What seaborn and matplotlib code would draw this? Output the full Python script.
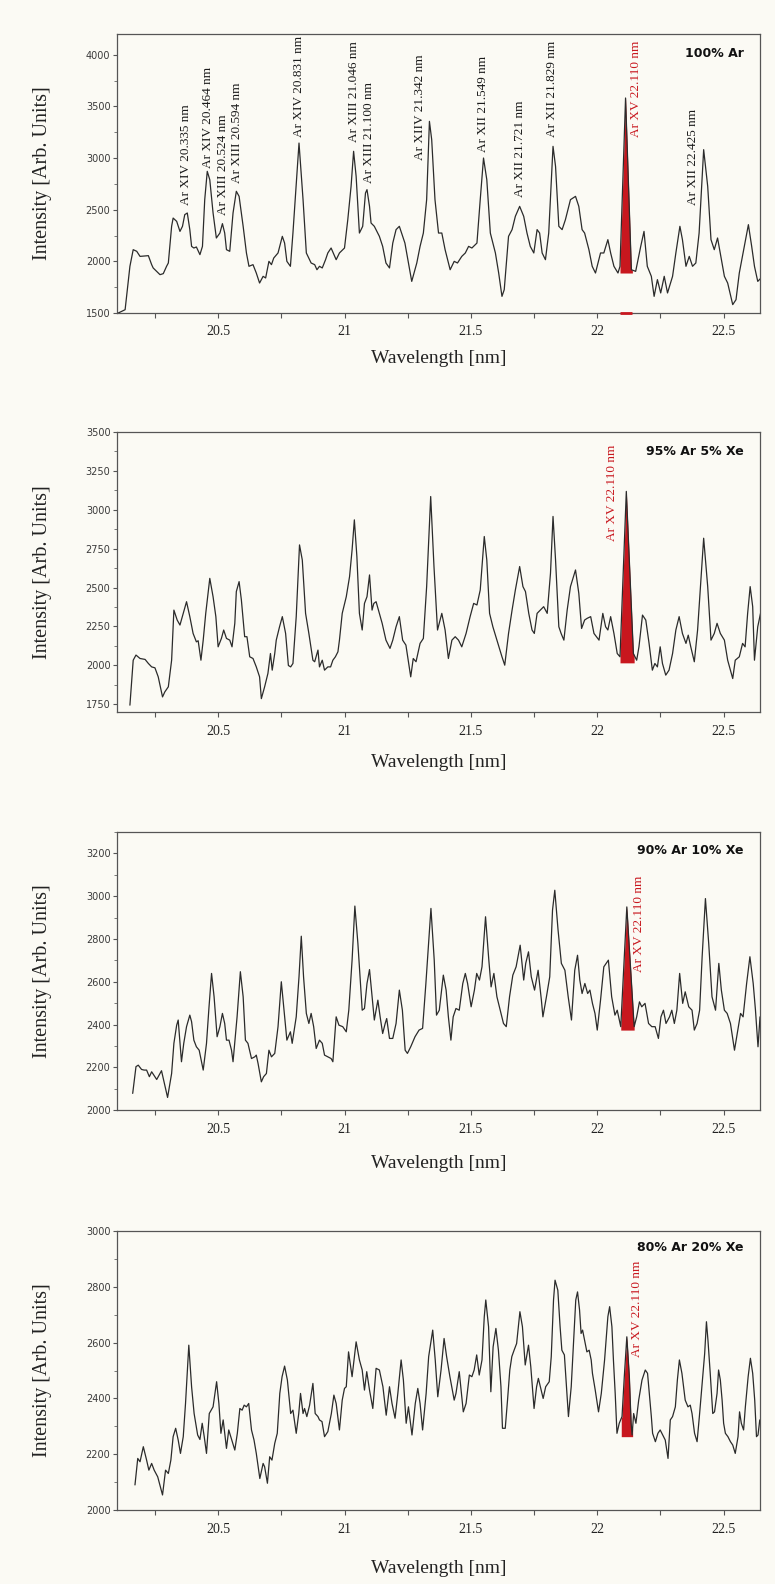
import numpy as np
import pandas as pd
import matplotlib
matplotlib.use("Agg")
import matplotlib.pyplot as plt
import seaborn as sns
from matplotlib.ticker import MultipleLocator, FuncFormatter

# ---------------- data: wavelength [nm] / intensity [arb. units] ----------------
wl_100 = [20.105, 20.132, 20.151, 20.164, 20.178, 20.191, 20.224, 20.237, 20.243, 20.270,
          20.283, 20.296, 20.303, 20.316, 20.322, 20.336, 20.349, 20.359, 20.368, 20.378,
          20.388, 20.395, 20.404, 20.414, 20.428, 20.438, 20.447, 20.457, 20.467, 20.480,
          20.493, 20.507, 20.517, 20.526, 20.533, 20.546, 20.559, 20.572, 20.583, 20.599,
          20.612, 20.622, 20.638, 20.651, 20.664, 20.678, 20.688, 20.701, 20.711, 20.720,
          20.737, 20.754, 20.763, 20.772, 20.786, 20.796, 20.820, 20.836, 20.849, 20.868,
          20.882, 20.891, 20.901, 20.912, 20.925, 20.934, 20.947, 20.961, 20.967, 20.980,
          21.000, 21.013, 21.026, 21.036, 21.046, 21.059, 21.072, 21.083, 21.089, 21.099,
          21.105, 21.118, 21.138, 21.151, 21.164, 21.178, 21.191, 21.204, 21.217, 21.239,
          21.246, 21.266, 21.286, 21.299, 21.312, 21.325, 21.336, 21.345, 21.358, 21.372,
          21.385, 21.398, 21.418, 21.434, 21.447, 21.464, 21.478, 21.491, 21.504, 21.524,
          21.537, 21.550, 21.563, 21.577, 21.597, 21.610, 21.623, 21.632, 21.649, 21.663,
          21.676, 21.693, 21.709, 21.722, 21.735, 21.749, 21.762, 21.772, 21.782, 21.795,
          21.808, 21.825, 21.835, 21.848, 21.861, 21.874, 21.894, 21.914, 21.927, 21.940,
          21.950, 21.967, 21.980, 21.993, 22.013, 22.026, 22.042, 22.053, 22.066, 22.082,
          22.090, 22.112, 22.135, 22.152, 22.172, 22.185, 22.198, 22.214, 22.225, 22.238,
          22.251, 22.265, 22.278, 22.298, 22.311, 22.327, 22.337, 22.351, 22.364, 22.377,
          22.390, 22.403, 22.421, 22.437, 22.450, 22.463, 22.476, 22.489, 22.503, 22.516,
          22.536, 22.549, 22.562, 22.582, 22.598, 22.611, 22.622, 22.635, 22.648]
int_100 = [1500, 1532, 1952, 2113, 2097, 2048, 2055, 1968, 1936, 1871,
           1881, 1952, 1984, 2339, 2419, 2387, 2290, 2339, 2452, 2468,
           2307, 2145, 2129, 2139, 2065, 2145, 2597, 2871, 2790, 2468,
           2226, 2274, 2365, 2274, 2113, 2097, 2468, 2678, 2629, 2339,
           2081, 1952, 1968, 1887, 1790, 1855, 1839, 2000, 1968, 2032,
           2081, 2242, 2177, 2000, 1952, 2274, 3145, 2597, 2081, 1984,
           1968, 1919, 1952, 1936, 2016, 2081, 2129, 2048, 2016, 2081,
           2129, 2403, 2726, 3065, 2823, 2274, 2339, 2661, 2694, 2532,
           2371, 2339, 2242, 2145, 1984, 1936, 2177, 2307, 2339, 2177,
           2081, 1806, 1984, 2145, 2274, 2597, 3355, 3178, 2597, 2274,
           2274, 2113, 1919, 2000, 1984, 2048, 2081, 2145, 2129, 2177,
           2597, 3000, 2790, 2274, 2081, 1887, 1661, 1726, 2242, 2307,
           2436, 2532, 2436, 2274, 2145, 2081, 2307, 2274, 2081, 2016,
           2274, 3113, 2919, 2339, 2307, 2403, 2597, 2629, 2532, 2307,
           2274, 2113, 1952, 1887, 2081, 2081, 2210, 2081, 1952, 1887,
           1952, 3581, 1919, 1903, 2145, 2290, 1952, 1855, 1661, 1823,
           1694, 1855, 1694, 1855, 2081, 2339, 2210, 1952, 2048, 1952,
           1984, 2274, 3081, 2726, 2210, 2113, 2226, 2048, 1855, 1790,
           1581, 1629, 1887, 2145, 2355, 2145, 1952, 1806, 1839]

wl_95 = [20.151, 20.164, 20.175, 20.191, 20.211, 20.224, 20.237, 20.250, 20.263, 20.280,
         20.289, 20.303, 20.316, 20.325, 20.338, 20.349, 20.362, 20.375, 20.388, 20.401,
         20.414, 20.421, 20.432, 20.441, 20.451, 20.467, 20.480, 20.491, 20.500, 20.513,
         20.522, 20.533, 20.546, 20.555, 20.566, 20.572, 20.583, 20.592, 20.605, 20.614,
         20.625, 20.638, 20.651, 20.664, 20.671, 20.684, 20.697, 20.707, 20.714, 20.724,
         20.730, 20.743, 20.754, 20.767, 20.778, 20.787, 20.796, 20.809, 20.822, 20.833,
         20.846, 20.859, 20.875, 20.882, 20.895, 20.901, 20.912, 20.921, 20.934, 20.945,
         20.954, 20.964, 20.974, 20.980, 20.991, 21.007, 21.020, 21.030, 21.039, 21.049,
         21.059, 21.070, 21.079, 21.089, 21.099, 21.109, 21.116, 21.125, 21.138, 21.149,
         21.164, 21.180, 21.191, 21.204, 21.217, 21.230, 21.243, 21.262, 21.272, 21.283,
         21.299, 21.312, 21.325, 21.341, 21.354, 21.368, 21.385, 21.398, 21.411, 21.425,
         21.438, 21.451, 21.464, 21.481, 21.497, 21.511, 21.524, 21.537, 21.553, 21.563,
         21.574, 21.587, 21.603, 21.623, 21.634, 21.649, 21.663, 21.676, 21.693, 21.706,
         21.716, 21.729, 21.742, 21.751, 21.762, 21.775, 21.788, 21.802, 21.815, 21.825,
         21.835, 21.848, 21.857, 21.868, 21.881, 21.894, 21.914, 21.927, 21.938, 21.950,
         21.960, 21.974, 21.987, 22.007, 22.022, 22.033, 22.042, 22.053, 22.066, 22.079,
         22.090, 22.115, 22.143, 22.156, 22.165, 22.179, 22.192, 22.205, 22.218, 22.228,
         22.238, 22.249, 22.258, 22.271, 22.284, 22.298, 22.311, 22.324, 22.337, 22.351,
         22.360, 22.370, 22.384, 22.397, 22.421, 22.437, 22.450, 22.463, 22.474, 22.487,
         22.503, 22.516, 22.536, 22.546, 22.562, 22.575, 22.585, 22.595, 22.605, 22.615,
         22.622, 22.635, 22.646]
int_95 = [1744, 2033, 2066, 2044, 2038, 2012, 1990, 1984, 1926, 1797,
          1829, 1862, 2033, 2355, 2291, 2259, 2334, 2409, 2313, 2205,
          2151, 2158, 2033, 2162, 2334, 2559, 2441, 2313, 2119, 2173,
          2227, 2173, 2162, 2119, 2270, 2474, 2538, 2420, 2184, 2184,
          2055, 2044, 1990, 1926, 1786, 1862, 1948, 2076, 1969, 2076,
          2162, 2248, 2313, 2205, 1999, 1990, 2012, 2313, 2774, 2677,
          2334, 2205, 2033, 2023, 2098, 1990, 2033, 1969, 1990, 1990,
          2033, 2055, 2087, 2162, 2334, 2441, 2570, 2742, 2935, 2699,
          2334, 2227, 2398, 2441, 2581, 2355, 2398, 2409, 2334, 2270,
          2162, 2109, 2162, 2248, 2313, 2162, 2130, 1926, 2044, 2023,
          2141, 2173, 2506, 3085, 2635, 2227, 2334, 2227, 2044, 2162,
          2184, 2162, 2119, 2205, 2313, 2398, 2388, 2484, 2828, 2677,
          2334, 2248, 2162, 2055, 2001, 2205, 2355, 2484, 2635, 2506,
          2474, 2334, 2227, 2205, 2334, 2355, 2377, 2334, 2592, 2957,
          2677, 2248, 2205, 2162, 2355, 2506, 2613, 2463, 2237, 2291,
          2302, 2313, 2205, 2162, 2334, 2248, 2227, 2313, 2205, 2076,
          2055, 3118, 2076, 2033, 2119, 2323, 2291, 2141, 1969, 2012,
          1990, 2119, 2012, 1937, 1969, 2076, 2227, 2313, 2205, 2141,
          2194, 2119, 2023, 2227, 2817, 2506, 2162, 2205, 2270, 2205,
          2162, 2033, 1915, 2033, 2055, 2141, 2119, 2334, 2506, 2377,
          2033, 2248, 2334]

wl_90 = [20.162, 20.175, 20.184, 20.197, 20.207, 20.217, 20.228, 20.237, 20.257, 20.276,
         20.300, 20.316, 20.325, 20.336, 20.342, 20.355, 20.364, 20.375, 20.388, 20.395,
         20.404, 20.414, 20.425, 20.441, 20.454, 20.464, 20.474, 20.484, 20.496, 20.507,
         20.517, 20.526, 20.533, 20.543, 20.553, 20.559, 20.575, 20.588, 20.599, 20.608,
         20.618, 20.632, 20.645, 20.651, 20.658, 20.671, 20.680, 20.691, 20.701, 20.711,
         20.724, 20.737, 20.750, 20.763, 20.772, 20.786, 20.793, 20.809, 20.820, 20.829,
         20.838, 20.849, 20.859, 20.868, 20.878, 20.888, 20.901, 20.912, 20.921, 20.934,
         20.947, 20.954, 20.967, 20.978, 20.993, 21.007, 21.017, 21.030, 21.041, 21.053,
         21.070, 21.079, 21.089, 21.099, 21.109, 21.118, 21.132, 21.141, 21.151, 21.161,
         21.167, 21.178, 21.191, 21.204, 21.217, 21.229, 21.240, 21.249, 21.262, 21.279,
         21.295, 21.309, 21.322, 21.342, 21.355, 21.364, 21.375, 21.391, 21.402, 21.411,
         21.421, 21.430, 21.441, 21.454, 21.468, 21.478, 21.487, 21.501, 21.514, 21.523,
         21.534, 21.544, 21.558, 21.571, 21.580, 21.591, 21.603, 21.616, 21.629, 21.640,
         21.653, 21.666, 21.679, 21.695, 21.709, 21.717, 21.728, 21.739, 21.752, 21.766,
         21.779, 21.785, 21.799, 21.812, 21.823, 21.832, 21.845, 21.858, 21.872, 21.885,
         21.898, 21.911, 21.922, 21.931, 21.940, 21.951, 21.962, 21.971, 21.981, 21.991,
         22.000, 22.013, 22.026, 22.044, 22.057, 22.070, 22.079, 22.093, 22.117, 22.146,
         22.156, 22.167, 22.176, 22.189, 22.203, 22.216, 22.229, 22.242, 22.252, 22.262,
         22.272, 22.286, 22.295, 22.305, 22.315, 22.326, 22.338, 22.348, 22.362, 22.375,
         22.384, 22.395, 22.405, 22.415, 22.428, 22.441, 22.454, 22.468, 22.481, 22.491,
         22.503, 22.514, 22.527, 22.543, 22.556, 22.567, 22.577, 22.591, 22.604, 22.617,
         22.626, 22.636, 22.644]
int_90 = [2078, 2203, 2210, 2190, 2187, 2187, 2156, 2179, 2143, 2184,
          2059, 2171, 2312, 2397, 2421, 2226, 2312, 2390, 2444, 2413,
          2327, 2296, 2280, 2187, 2312, 2483, 2639, 2530, 2343, 2390,
          2452, 2405, 2327, 2327, 2280, 2226, 2436, 2647, 2530, 2327,
          2312, 2241, 2249, 2257, 2218, 2132, 2156, 2171, 2280, 2249,
          2265, 2390, 2600, 2436, 2327, 2366, 2312, 2436, 2623, 2813,
          2623, 2452, 2405, 2452, 2390, 2288, 2327, 2312, 2257, 2249,
          2241, 2226, 2436, 2397, 2390, 2366, 2467, 2701, 2954, 2779,
          2467, 2475, 2592, 2657, 2530, 2421, 2514, 2436, 2358, 2405,
          2428, 2335, 2335, 2405, 2561, 2467, 2280, 2265, 2296, 2343,
          2374, 2382, 2592, 2943, 2701, 2444, 2467, 2631, 2561, 2436,
          2327, 2436, 2475, 2467, 2592, 2639, 2592, 2483, 2561, 2639,
          2608, 2670, 2904, 2701, 2576, 2639, 2530, 2467, 2405, 2390,
          2530, 2631, 2670, 2771, 2608, 2686, 2740, 2623, 2561, 2654,
          2514, 2436, 2530, 2623, 2935, 3028, 2841, 2686, 2654, 2530,
          2421, 2654, 2724, 2608, 2545, 2592, 2545, 2561, 2499, 2452,
          2374, 2514, 2670, 2701, 2530, 2444, 2467, 2390, 2950, 2390,
          2436, 2506, 2483, 2499, 2405, 2390, 2390, 2335, 2436, 2467,
          2405, 2436, 2467, 2405, 2467, 2639, 2499, 2553, 2483, 2467,
          2374, 2405, 2467, 2717, 2989, 2779, 2530, 2467, 2686, 2561,
          2467, 2452, 2405, 2280, 2374, 2452, 2436, 2592, 2717, 2592,
          2467, 2296, 2436]

wl_80 = [20.171, 20.182, 20.191, 20.204, 20.217, 20.226, 20.237, 20.247, 20.261, 20.280,
         20.292, 20.303, 20.313, 20.322, 20.332, 20.342, 20.351, 20.362, 20.371, 20.384,
         20.395, 20.405, 20.419, 20.428, 20.437, 20.445, 20.454, 20.465, 20.480, 20.494,
         20.503, 20.511, 20.520, 20.533, 20.542, 20.550, 20.566, 20.576, 20.586, 20.595,
         20.603, 20.612, 20.621, 20.632, 20.642, 20.651, 20.665, 20.678, 20.684, 20.695,
         20.704, 20.713, 20.724, 20.734, 20.744, 20.753, 20.763, 20.774, 20.787, 20.796,
         20.809, 20.819, 20.826, 20.836, 20.842, 20.851, 20.862, 20.875, 20.884, 20.895,
         20.901, 20.911, 20.921, 20.934, 20.948, 20.958, 20.967, 20.980, 20.991, 21.000,
         21.007, 21.016, 21.030, 21.046, 21.059, 21.070, 21.079, 21.088, 21.099, 21.112,
         21.125, 21.138, 21.152, 21.165, 21.178, 21.188, 21.200, 21.211, 21.224, 21.233,
         21.244, 21.253, 21.267, 21.280, 21.290, 21.299, 21.309, 21.323, 21.333, 21.349,
         21.359, 21.369, 21.382, 21.394, 21.404, 21.417, 21.434, 21.441, 21.454, 21.470,
         21.481, 21.494, 21.504, 21.513, 21.523, 21.533, 21.544, 21.553, 21.559, 21.570,
         21.579, 21.588, 21.599, 21.609, 21.619, 21.625, 21.636, 21.645, 21.654, 21.662,
         21.671, 21.681, 21.694, 21.704, 21.715, 21.728, 21.737, 21.750, 21.760, 21.767,
         21.786, 21.796, 21.810, 21.818, 21.827, 21.833, 21.844, 21.853, 21.860, 21.870,
         21.880, 21.886, 21.897, 21.906, 21.915, 21.922, 21.930, 21.936, 21.942, 21.950,
         21.959, 21.968, 21.976, 21.981, 21.992, 22.005, 22.016, 22.029, 22.042, 22.049,
         22.058, 22.064, 22.071, 22.078, 22.087, 22.098, 22.107, 22.117, 22.127, 22.134,
         22.138, 22.144, 22.153, 22.164, 22.177, 22.190, 22.199, 22.206, 22.214, 22.219,
         22.230, 22.240, 22.249, 22.259, 22.269, 22.280, 22.289, 22.298, 22.309, 22.317,
         22.325, 22.335, 22.348, 22.359, 22.368, 22.375, 22.385, 22.395, 22.404, 22.414,
         22.425, 22.432, 22.438, 22.447, 22.457, 22.464, 22.474, 22.480, 22.487, 22.494,
         22.500, 22.507, 22.517, 22.527, 22.536, 22.546, 22.557, 22.563, 22.570, 22.579,
         22.586, 22.597, 22.606, 22.615, 22.623, 22.630, 22.636, 22.643]
int_80 = [2090, 2185, 2173, 2227, 2179, 2143, 2167, 2143, 2119, 2054,
          2143, 2131, 2179, 2263, 2293, 2251, 2203, 2263, 2382, 2591,
          2442, 2346, 2269, 2253, 2311, 2263, 2203, 2346, 2370, 2460,
          2382, 2275, 2323, 2221, 2287, 2263, 2215, 2275, 2364, 2358,
          2376, 2370, 2382, 2287, 2251, 2203, 2113, 2167, 2155, 2096,
          2191, 2179, 2239, 2275, 2418, 2478, 2516, 2466, 2346, 2358,
          2275, 2346, 2418, 2346, 2364, 2335, 2376, 2454, 2346, 2335,
          2323, 2317, 2263, 2281, 2346, 2412, 2382, 2287, 2394, 2436,
          2442, 2567, 2478, 2603, 2538, 2502, 2430, 2496, 2430, 2364,
          2508, 2502, 2442, 2340, 2442, 2382, 2329, 2418, 2538, 2466,
          2311, 2370, 2269, 2382, 2436, 2382, 2287, 2418, 2550, 2645,
          2538, 2406, 2502, 2615, 2550, 2478, 2394, 2418, 2496, 2352,
          2382, 2484, 2478, 2502, 2556, 2484, 2538, 2693, 2753, 2657,
          2424, 2585, 2651, 2573, 2442, 2293, 2293, 2394, 2502, 2550,
          2573, 2597, 2711, 2657, 2520, 2591, 2514, 2364, 2442, 2472,
          2400, 2442, 2460, 2550, 2753, 2824, 2788, 2657, 2573, 2556,
          2418, 2335, 2442, 2597, 2753, 2782, 2717, 2633, 2645, 2609,
          2567, 2573, 2538, 2490, 2430, 2352, 2418, 2538, 2693, 2729,
          2657, 2538, 2418, 2275, 2311, 2335, 2478, 2621, 2478, 2311,
          2269, 2346, 2311, 2394, 2466, 2502, 2490, 2418, 2335, 2275,
          2245, 2275, 2287, 2269, 2251, 2185, 2323, 2335, 2370, 2466,
          2538, 2490, 2394, 2370, 2376, 2346, 2275, 2245, 2335, 2442,
          2561, 2675, 2609, 2490, 2346, 2352, 2418, 2502, 2466, 2394,
          2311, 2275, 2263, 2245, 2233, 2203, 2263, 2352, 2311, 2287,
          2370, 2478, 2544, 2490, 2394, 2263, 2269, 2323]

mixtures = ["100% Ar", "95% Ar 5% Xe", "90% Ar 10% Xe", "80% Ar 20% Xe"]

# highlighted Ar XV 22.110 nm line: [start, end] wavelength and base intensity
red_start = [22.090, 22.090, 22.093, 22.095]
red_end = [22.139, 22.146, 22.146, 22.140]
red_base = [1887, 2016, 2374, 2263]

# y axis ranges and tick steps
y_low = [1500, 1700, 2000, 2000]
y_high = [4200, 3500, 3300, 3000]
y_major = [500, 250, 200, 200]
y_minor = [250, 125, 100, 100]

# line identifications of the top panel (label, wavelength, intensity at text start)
line_labels = ["Ar XIV 20.335 nm", "Ar XIV 20.464 nm", "Ar XIII 20.524 nm", "Ar XIII 20.594 nm",
               "Ar XIV 20.831 nm", "Ar XIII 21.046 nm", "Ar XIII 21.100 nm", "Ar XIIV 21.342 nm",
               "Ar XII 21.549 nm", "Ar XII 21.721 nm", "Ar XII 21.829 nm", "Ar XII 22.425 nm"]
line_label_wl = [20.374, 20.458, 20.518, 20.576, 20.821, 21.039, 21.098, 21.298,
                 21.549, 21.693, 21.819, 22.379]
line_label_int = [2545, 2904, 2449, 2761, 3207, 3158, 2755, 2981,
                  3061, 2626, 3207, 2545]
red_label = "Ar XV 22.110 nm"
red_label_wl = [22.152, 22.058, 22.167, 22.159]
red_label_int = [3207, 2796, 2647, 2549]

series = [(wl_100, int_100), (wl_95, int_95), (wl_90, int_90), (wl_80, int_80)]

# ---------------- style ----------------
sns.set_style("ticks")
plt.rcParams["font.family"] = ["DejaVu Sans"]
BG = "#fbfaf4"
INK = "#2b2b2b"
RED = "#c8171e"
SERIF = ["Liberation Serif", "DejaVu Serif"]

fig = plt.figure(figsize=(7.75, 15.84), dpi=100, facecolor=BG)

# axes boxes in figure fractions (left, bottom, width, height)
boxes = [(0.151, 0.8024, 0.830, 0.1761),
         (0.151, 0.5505, 0.830, 0.1768),
         (0.151, 0.2992, 0.830, 0.1755),
         (0.151, 0.0467, 0.830, 0.1761)]
xlabel_y = [-0.164, -0.179, -0.191, -0.211]
title_y = [0.932, 0.930, 0.935, 0.940]

for i, (wl, inten) in enumerate(series):
    ax = fig.add_axes(boxes[i])
    ax.set_facecolor(BG)
    df = pd.DataFrame({"Wavelength": wl, "Intensity": inten})
    sns.lineplot(data=df, x="Wavelength", y="Intensity", ax=ax, color=INK,
                 linewidth=0.9, estimator=None, sort=False, zorder=3)

    # red highlighted peak
    w = np.asarray(wl, float)
    v = np.asarray(inten, float)
    inside = (w > red_start[i]) & (w < red_end[i])
    fx = np.concatenate([[red_start[i]], w[inside], [red_end[i]]])
    fy = np.concatenate([[np.interp(red_start[i], w, v)], v[inside],
                         [np.interp(red_end[i], w, v)]])
    ax.fill_between(fx, fy, red_base[i], color=RED, linewidth=0, zorder=2)

    ax.set_xlim(20.10, 22.645)
    ax.set_ylim(y_low[i], y_high[i])
    ax.xaxis.set_major_locator(MultipleLocator(0.5))
    ax.xaxis.set_minor_locator(MultipleLocator(0.25))
    ax.xaxis.set_major_formatter(FuncFormatter(lambda x, p: f"{x:g}"))
    ax.yaxis.set_major_locator(MultipleLocator(y_major[i]))
    ax.yaxis.set_minor_locator(MultipleLocator(y_minor[i]))

    ax.tick_params(axis="x", which="both", direction="out", length=3.5, width=0.8,
                   color="#555555", pad=5.5, top=False)
    ax.tick_params(axis="y", which="major", direction="out", length=3.2, width=0.8,
                   color="#555555", pad=1.5, right=False)
    ax.tick_params(axis="y", which="minor", direction="out", length=2.0, width=0.7,
                   color="#777777", right=False)
    for lab in ax.get_xticklabels():
        lab.set_fontfamily(SERIF)
        lab.set_fontsize(10)
        lab.set_color("#222222")
    for lab in ax.get_yticklabels():
        lab.set_fontsize(7)
        lab.set_color("#3a3a3a")

    for sp in ax.spines.values():
        sp.set_visible(True)
        sp.set_color("#555555")
        sp.set_linewidth(0.9)

    ax.set_xlabel("Wavelength [nm]", family=SERIF, fontsize=14, color="#222222", va="center")
    ax.xaxis.set_label_coords(0.5, xlabel_y[i])
    ax.set_ylabel("Intensity [Arb. Units]", family=SERIF, fontsize=14.5, color="#222222",
                  va="center", ha="center")
    ax.yaxis.set_label_coords(-0.1166, 0.5)

    ax.text(0.974, title_y[i], mixtures[i], transform=ax.transAxes, ha="right", va="center",
            fontsize=9, fontweight="bold", color="#111111")

    ax.text(red_label_wl[i], red_label_int[i], red_label, rotation=90, ha="center",
            va="bottom", family=SERIF, fontsize=9.5, color=RED)

    if i == 0:
        for lab, x, y in zip(line_labels, line_label_wl, line_label_int):
            ax.text(x, y, lab, rotation=90, ha="center", va="bottom", family=SERIF,
                    fontsize=9.5, color="#1a1a1a")
        ax.hlines(y_low[i], red_start[i], red_end[i], color=RED, linewidth=2.0,
                  zorder=4, clip_on=False)

fig.savefig("out.png", dpi=100, facecolor=BG)
